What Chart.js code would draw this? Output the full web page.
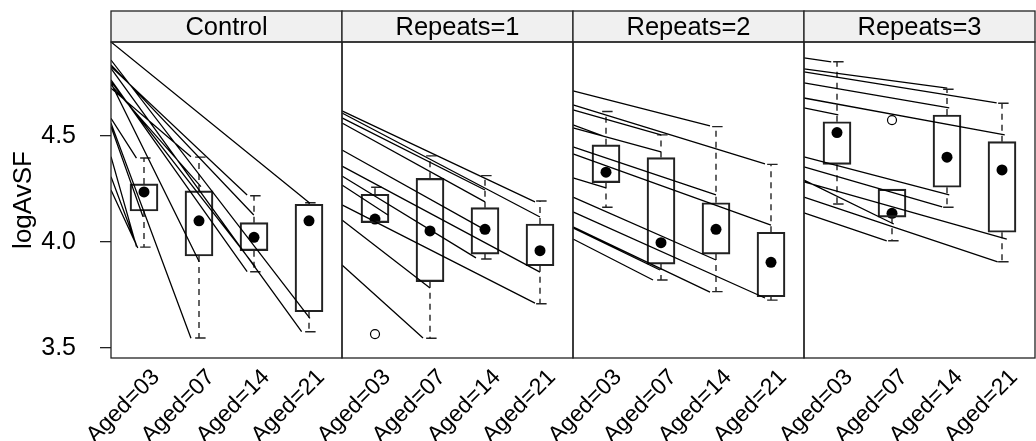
<!DOCTYPE html>
<html>
<head>
<meta charset="utf-8">
<script src="https://cdn.jsdelivr.net/npm/chart.js@4/dist/chart.umd.min.js"></script>
<style>
  html, body { margin: 0; padding: 0; background: #fff; }
  #wrap { width: 1036px; height: 441px; position: relative; }
</style>
</head>
<body>
<div id="wrap"><canvas id="chart"></canvas></div>
<script>
const panels = ["Control", "Repeats=1", "Repeats=2", "Repeats=3"];
const ages = ["Aged=03", "Aged=07", "Aged=14", "Aged=21"];
const yTicks = [3.5, 4.0, 4.5];

// box stats per age: [low whisker, q1, median, q3, high whisker]
const ctrlBox = [[3.976, 4.146, 4.236, 4.274, 4.396], [3.547, 3.934, 4.10, 4.241, 4.40], [3.860, 3.959, 4.022, 4.091, 4.218], [3.577, 3.671, 4.10, 4.178, 4.185]];
const rep1Box = [[4.091, 4.091, 4.108, 4.225, 4.258], [3.546, 3.813, 4.052, 4.30, 4.406], [3.920, 3.943, 4.06, 4.162, 4.313], [3.709, 3.888, 3.959, 4.085, 4.193]];
const rep2Box = [[4.164, 4.280, 4.329, 4.458, 4.615], [3.821, 3.896, 3.997, 4.398, 4.505], [3.766, 3.943, 4.06, 4.185, 4.544], [3.726, 3.742, 3.904, 4.046, 4.366]];
const rep3Box = [[4.179, 4.366, 4.516, 4.567, 4.85], [4.006, 4.117, 4.135, 4.249, 4.249], [4.164, 4.258, 4.40, 4.599, 4.72], [3.907, 4.046, 4.34, 4.473, 4.654]];

// outliers: [age index 1..4, value]
const ctrlOut = [];
const rep1Out = [[1, 3.566]];
const rep2Out = [];
const rep3Out = [[2, 4.575]];

// subject lines: [age from, value from, age to, value to]
const ctrlLines = [
  [0.4, 4.943, 4.017, 4.183], [0.4, 4.858, 4.017, 3.640], [0.4, 4.819, 3.866, 3.577],
  [0.4, 4.835, 2.996, 4.127], [0.4, 4.827, 2.875, 4.222], [0.4, 4.764, 2.875, 3.860],
  [0.4, 4.756, 3.026, 3.883], [0.4, 4.749, 2.004, 3.907], [0.4, 4.741, 2.035, 4.261],
  [0.4, 4.725, 1.854, 4.402], [0.4, 4.583, 0.863, 4.395], [0.4, 4.560, 1.854, 3.546],
  [0.4, 4.544, 0.982, 4.119], [0.4, 4.402, 0.863, 3.978], [0.4, 4.308, 0.863, 3.986],
  [0.4, 4.245, 0.887, 3.972]
];
const rep1Lines = [
  [0.4, 4.618, 3.909, 4.189], [0.4, 4.608, 4.000, 4.118], [0.4, 4.585, 3.000, 4.245],
  [0.4, 4.561, 3.000, 4.189], [0.4, 4.311, 2.836, 3.925], [0.4, 4.358, 4.000, 3.858],
  [0.4, 4.175, 3.909, 3.712], [0.4, 4.104, 2.000, 3.783], [0.4, 3.892, 1.873, 3.547],
  [0.4, 4.434, 3.000, 4.057], [0.4, 4.269, 1.236, 4.127]
];
const rep2Lines = [
  [0.4, 4.712, 2.891, 4.547], [0.4, 4.646, 3.891, 4.368], [0.4, 4.623, 2.000, 4.505],
  [0.4, 4.552, 1.000, 4.495], [0.4, 4.538, 2.000, 4.425], [0.4, 4.448, 3.000, 4.222],
  [0.4, 4.415, 4.000, 4.080], [0.4, 4.302, 1.000, 4.255], [0.4, 4.212, 3.000, 3.915],
  [0.4, 4.142, 3.891, 3.736], [0.4, 4.071, 2.891, 3.764], [0.4, 4.066, 1.982, 3.868],
  [0.4, 4.014, 1.855, 3.821]
];
const rep3Lines = [
  [0.4, 4.868, 0.895, 4.849], [0.4, 4.816, 3.005, 4.726], [0.4, 4.802, 3.903, 4.656],
  [0.4, 4.750, 3.041, 4.632], [0.4, 4.679, 4.050, 4.505], [0.4, 4.632, 1.024, 4.599],
  [0.4, 4.401, 3.041, 4.222], [0.4, 4.354, 2.913, 4.165], [0.4, 4.292, 2.032, 4.085],
  [0.4, 4.283, 4.087, 4.014], [0.4, 4.212, 3.922, 3.906], [0.4, 4.137, 1.904, 4.005]
];

const boxes = [ctrlBox, rep1Box, rep2Box, rep3Box];
const outliers = [ctrlOut, rep1Out, rep2Out, rep3Out];
const lines = [ctrlLines, rep1Lines, rep2Lines, rep3Lines];

// each panel spans age 0.4 .. 4.6 on a shared x scale
const span = 4.2;
const gx = (p, u) => p * span + (u - 0.4);

const lineData = [], boxData = [], whiskData = [], capData = [], medData = [], outData = [];
lines.forEach((set, p) => set.forEach(([u0, v0, u1, v1]) => {
  lineData.push({x: gx(p, u0), y: v0}, {x: gx(p, u1), y: v1}, {x: gx(p, u1), y: null});
}));
boxes.forEach((set, p) => set.forEach(([lo, q1, med, q3, hi], i) => {
  const c = gx(p, i + 1);
  boxData.push({x: c, y: [q1, q3]});
  medData.push({x: c, y: med});
  if (hi > q3) {
    whiskData.push({x: c, y: q3}, {x: c, y: hi}, {x: c, y: null});
    capData.push({x: c - 0.07, y: hi}, {x: c + 0.12, y: hi}, {x: c, y: null});
  }
  if (lo < q1) {
    whiskData.push({x: c, y: q1}, {x: c, y: lo}, {x: c, y: null});
    capData.push({x: c - 0.07, y: lo}, {x: c + 0.12, y: lo}, {x: c, y: null});
  }
}));
outliers.forEach((set, p) => set.forEach(([a, v]) => outData.push({x: gx(p, a), y: v})));

const tickPos = [];
panels.forEach((_, p) => ages.forEach((_, i) => tickPos.push(gx(p, i + 1))));

const font = '"Liberation Sans", Arial, sans-serif';

const panelFrame = {
  id: 'panelFrame',
  afterDraw(chart) {
    const {ctx, chartArea: a, scales: {x}} = chart;
    ctx.save();
    ctx.lineWidth = 1.3;
    ctx.strokeStyle = '#222';
    panels.forEach((name, p) => {
      const l = x.getPixelForValue(p * span), r = x.getPixelForValue((p + 1) * span);
      ctx.fillStyle = '#f0f0f0';
      ctx.fillRect(l, 11, r - l, a.top - 11);
      ctx.strokeRect(l, 11, r - l, a.top - 11);
      ctx.fillStyle = '#000';
      ctx.font = '25.5px ' + font;
      ctx.textAlign = 'center';
      ctx.textBaseline = 'middle';
      ctx.fillText(name, (l + r) / 2, (11 + a.top) / 2 + 1);
      ctx.strokeRect(l, a.top, r - l, a.bottom - a.top);
    });
    ctx.restore();
  }
};

const ctx = document.getElementById("chart").getContext("2d");
const chart = new Chart(ctx, {
  type: "line",
  data: {
    datasets: [
      {
        label: "subjects",
        data: lineData,
        borderColor: "#000",
        borderWidth: 1.3,
        pointRadius: 0,
        spanGaps: false,
      },
      {
        label: "whiskers",
        data: whiskData,
        borderColor: "#222",
        borderWidth: 1.4,
        borderDash: [6, 5],
        pointRadius: 0,
        spanGaps: false,
      },
      {
        label: "caps",
        data: capData,
        borderColor: "#222",
        borderWidth: 1.4,
        pointRadius: 0,
        spanGaps: false,
      },
      {
        type: "bar",
        label: "boxes",
        data: boxData,
        backgroundColor: "rgba(0,0,0,0)",
        borderColor: "#222",
        borderWidth: 1.5,
        borderSkipped: false,
        barThickness: 28,
      },
      {
        label: "medians",
        data: medData,
        showLine: false,
        pointRadius: 5.5,
        pointBackgroundColor: "#000",
        pointBorderColor: "#000",
        pointBorderWidth: 0,
      },
      {
        label: "outliers",
        data: outData,
        showLine: false,
        pointRadius: 4.5,
        pointBackgroundColor: "rgba(0,0,0,0)",
        pointBorderColor: "#000",
        pointBorderWidth: 1.2,
      },
    ],
  },
  options: {
    responsive: true,
    maintainAspectRatio: false,
    devicePixelRatio: 1,
    animation: false,
    events: [],
    layout: { autoPadding: false, padding: { top: 42, right: 1, left: 0, bottom: 0 } },
    plugins: { legend: { display: false }, tooltip: { enabled: false } },
    scales: {
      x: {
        type: "linear",
        min: 0,
        max: span * 4,
        offset: false,
        afterBuildTicks: (s) => { s.ticks = tickPos.map((v) => ({ value: v })); },
        afterFit: (s) => { s.height = 83; s.paddingLeft = 0; s.paddingRight = 0; },
        grid: { display: false },
        border: { display: false },
        ticks: {
          autoSkip: false,
          minRotation: 45,
          maxRotation: 45,
          padding: -2,
          labelOffset: 12,
          color: "#000",
          font: { family: font, size: 23 },
          callback: (v, i) => ages[i % 4],
        },
      },
      y: {
        min: 3.453,
        max: 4.943,
        afterBuildTicks: (s) => { s.ticks = yTicks.map((v) => ({ value: v })); },
        afterFit: (s) => { s.width = 111; s.paddingTop = 0; s.paddingBottom = 0; },
        grid: { drawOnChartArea: false, drawTicks: true, tickLength: 11, color: "#222", lineWidth: 1.3 },
        border: { display: false },
        title: {
          display: true,
          text: "logAvSF",
          color: "#000",
          padding: { top: 8, bottom: 0 },
          font: { family: font, size: 26 },
        },
        ticks: {
          padding: 24,
          color: "#000",
          font: { family: font, size: 25 },
          callback: (v) => Number(v).toFixed(1),
        },
      },
    },
  },
  plugins: [panelFrame],
});
</script>
</body>
</html>
